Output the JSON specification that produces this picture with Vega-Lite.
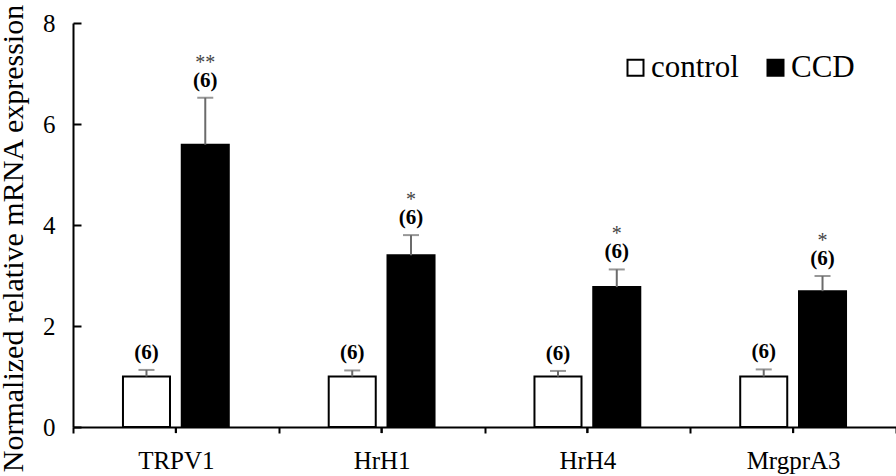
{
  "$schema": "https://vega.github.io/schema/vega-lite/v6.json",
  "width": 823,
  "height": 404,
  "autosize": {"type": "none"},
  "padding": {"left": 73, "top": 23, "right": 0, "bottom": 49},
  "background": "white",
  "config": {
    "view": {"stroke": null},
    "font": "Liberation Serif",
    "axis": {"grid": false, "domainColor": "black", "domainWidth": 2, "tickColor": "black", "tickWidth": 2, "labelColor": "black", "titleColor": "black", "labelFont": "Liberation Serif", "titleFont": "Liberation Serif"}
  },
  "data": {
    "values": [
      {"gene": "TRPV1", "group": "control", "mean": 1.0, "hi": 1.13, "n": "(6)", "sig": ""},
      {"gene": "TRPV1", "group": "CCD", "mean": 5.59, "hi": 6.52, "n": "(6)", "sig": "**"},
      {"gene": "HrH1", "group": "control", "mean": 1.0, "hi": 1.12, "n": "(6)", "sig": ""},
      {"gene": "HrH1", "group": "CCD", "mean": 3.40, "hi": 3.80, "n": "(6)", "sig": "*"},
      {"gene": "HrH4", "group": "control", "mean": 1.0, "hi": 1.11, "n": "(6)", "sig": ""},
      {"gene": "HrH4", "group": "CCD", "mean": 2.77, "hi": 3.12, "n": "(6)", "sig": "*"},
      {"gene": "MrgprA3", "group": "control", "mean": 1.0, "hi": 1.14, "n": "(6)", "sig": ""},
      {"gene": "MrgprA3", "group": "CCD", "mean": 2.69, "hi": 2.99, "n": "(6)", "sig": "*"}
    ]
  },
  "encoding": {
    "x": {
      "field": "gene", "type": "nominal", "sort": ["TRPV1", "HrH1", "HrH4", "MrgprA3"],
      "scale": {"paddingInner": 0, "paddingOuter": 0},
      "axis": {"orient": "bottom", "title": null, "labelAngle": 0, "labelFontSize": 25, "labelBaseline": "alphabetic", "labelPadding": 35, "ticks": true, "tickSize": 6, "tickBand": "extent", "tickColor": "black", "tickWidth": 2}
    }
  },
  "layer": [
    {
      "mark": {"type": "bar", "stroke": "black", "strokeWidth": 2},
      "encoding": {
        "xOffset": {"field": "group", "type": "nominal", "sort": ["control", "CCD"], "scale": {"paddingInner": 0.2, "paddingOuter": 0.85}},
        "y": {
          "field": "mean", "type": "quantitative",
          "scale": {"domain": [0, 8], "nice": false},
          "axis": {"title": "Normalized relative mRNA expression", "titleFontSize": 30, "titleFontWeight": "normal", "titleX": -51, "titleY": 215, "titleBaseline": "alphabetic", "titleAngle": -90, "values": [0, 2, 4, 6, 8], "tickSize": -8, "labelPadding": 26, "labelFontSize": 25, "labelBaseline": "middle"}
        },
        "fill": {
          "field": "group", "type": "nominal",
          "scale": {"domain": ["control", "CCD"], "range": ["white", "black"]},
          "legend": {"title": null, "orient": "none", "direction": "horizontal", "legendX": 547, "legendY": 29, "symbolType": "square", "symbolSize": 256, "symbolStrokeColor": "black", "symbolStrokeWidth": 2, "labelFontSize": 31, "labelColor": "black", "labelFont": "Liberation Serif", "labelOffset": 0, "columnPadding": 21, "padding": 0}
        }
      }
    },
    {
      "mark": {"type": "rule", "color": "#6b6b6b", "strokeWidth": 2},
      "encoding": {
        "xOffset": {"field": "group", "type": "nominal", "sort": ["control", "CCD"]},
        "y": {"field": "mean", "type": "quantitative"},
        "y2": {"field": "hi"}
      }
    },
    {
      "mark": {"type": "tick", "color": "#6b6b6b", "thickness": 2, "size": 16},
      "encoding": {
        "xOffset": {"field": "group", "type": "nominal", "sort": ["control", "CCD"]},
        "y": {"field": "hi", "type": "quantitative"}
      }
    },
    {
      "mark": {"type": "rule", "color": "black", "strokeWidth": 2},
      "encoding": {
        "x": {"field": "gene", "type": "nominal", "sort": ["TRPV1", "HrH1", "HrH4", "MrgprA3"], "bandPosition": 0.5, "axis": {"title": null}},
        "y": {"datum": 0, "type": "quantitative"},
        "y2": {"datum": -0.12}
      }
    },
    {
      "mark": {"type": "text", "fontSize": 21, "fontWeight": "bold", "color": "black", "baseline": "alphabetic", "dy": -11},
      "encoding": {
        "xOffset": {"field": "group", "type": "nominal", "sort": ["control", "CCD"]},
        "y": {"field": "hi", "type": "quantitative"},
        "text": {"field": "n"}
      }
    },
    {
      "mark": {"type": "text", "fontSize": 20, "color": "#444444", "baseline": "alphabetic", "dy": -29},
      "encoding": {
        "xOffset": {"field": "group", "type": "nominal", "sort": ["control", "CCD"]},
        "y": {"field": "hi", "type": "quantitative"},
        "text": {"field": "sig"}
      }
    }
  ]
}
